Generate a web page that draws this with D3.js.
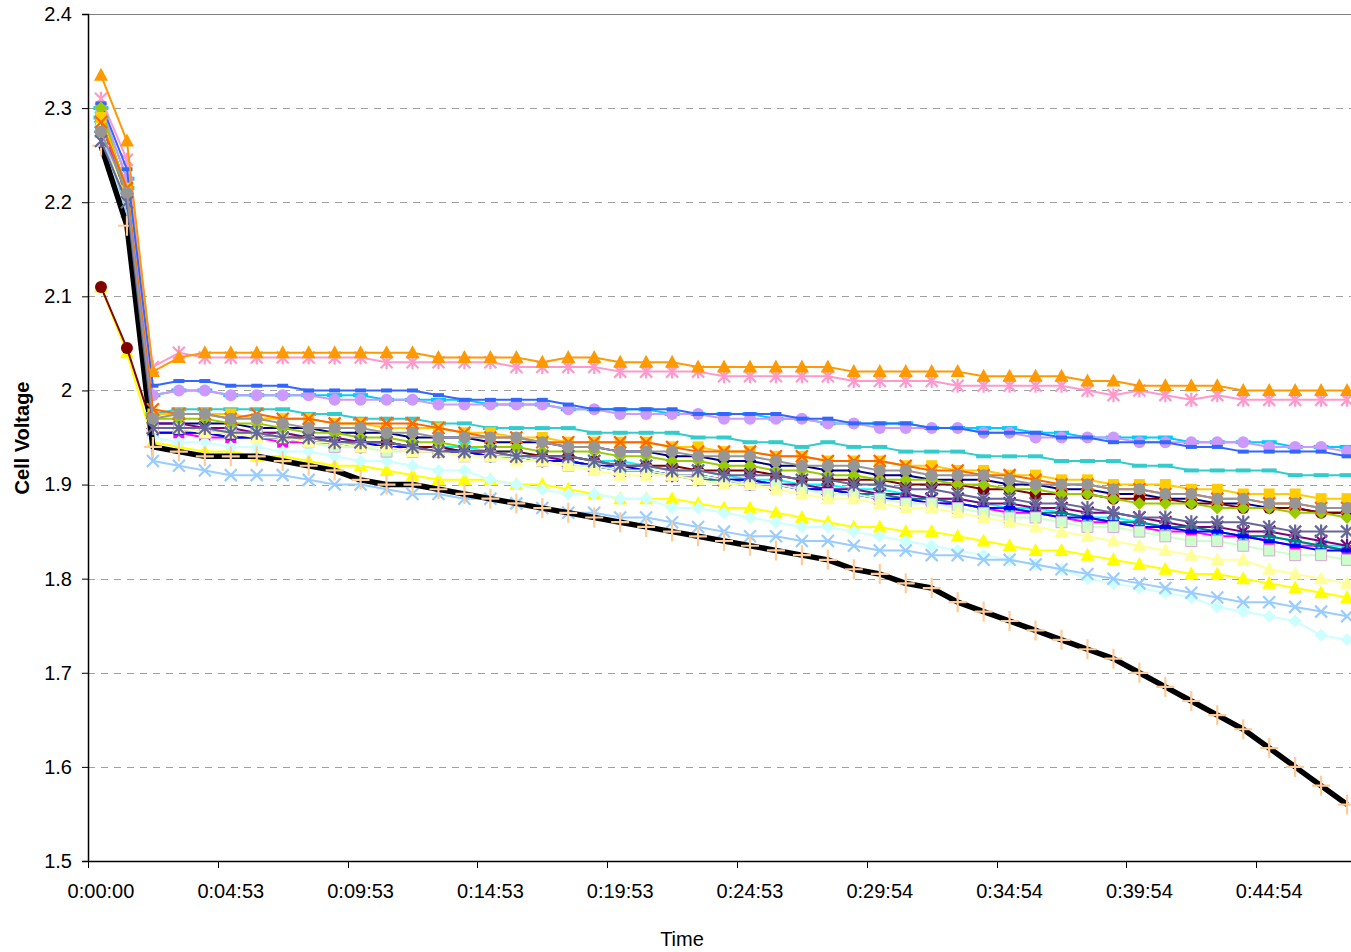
<!DOCTYPE html>
<html>
<head>
<meta charset="utf-8">
<script src="https://cdn.jsdelivr.net/npm/d3@7"></script>
<style>
  body { margin: 0; background: #fff; }
  svg { display: block; font-family: "Liberation Sans", Arial, sans-serif; }
</style>
</head>
<body>
<svg id="chart" width="1351" height="952"></svg>
<script>
// sample times (category axis)
const times = [
  "0:00:00", "0:00:53", "0:01:53", "0:02:53", "0:03:53", "0:04:53", "0:05:53", "0:06:53", "0:07:53", "0:08:53",
  "0:09:53", "0:10:53", "0:11:53", "0:12:53", "0:13:53", "0:14:53", "0:15:53", "0:16:53", "0:17:53", "0:18:53",
  "0:19:53", "0:20:53", "0:21:53", "0:22:53", "0:23:53", "0:24:53", "0:25:53", "0:26:53", "0:27:54", "0:28:54",
  "0:29:54", "0:30:54", "0:31:54", "0:32:54", "0:33:54", "0:34:54", "0:35:54", "0:36:54", "0:37:54", "0:38:54",
  "0:39:54", "0:40:54", "0:41:54", "0:42:54", "0:43:54", "0:44:54", "0:45:54", "0:46:54", "0:47:54"
];
const yTicks = [1.5, 1.6, 1.7, 1.8, 1.9, 2.0, 2.1, 2.2, 2.3, 2.4];

// cell voltages, one array per cell
const cell01 = [
  2.28, 2.2, 1.965, 1.965, 1.965, 1.965, 1.96, 1.96, 1.96, 1.955,
  1.955, 1.955, 1.95, 1.95, 1.95, 1.945, 1.945, 1.945, 1.94, 1.94,
  1.935, 1.935, 1.93, 1.93, 1.925, 1.925, 1.92, 1.92, 1.915, 1.915,
  1.91, 1.91, 1.905, 1.905, 1.905, 1.9, 1.9, 1.895, 1.895, 1.89,
  1.89, 1.885, 1.885, 1.88, 1.88, 1.875, 1.875, 1.87, 1.87];
const cell02 = [
  2.29, 2.2, 1.955, 1.955, 1.95, 1.95, 1.95, 1.945, 1.945, 1.945,
  1.94, 1.94, 1.935, 1.935, 1.935, 1.93, 1.93, 1.925, 1.925, 1.92,
  1.915, 1.915, 1.91, 1.91, 1.905, 1.9, 1.9, 1.895, 1.895, 1.89,
  1.885, 1.885, 1.88, 1.88, 1.875, 1.87, 1.87, 1.865, 1.86, 1.86,
  1.855, 1.85, 1.85, 1.845, 1.845, 1.84, 1.835, 1.835, 1.83];
const cell03 = [
  2.11, 2.04, 1.945, 1.94, 1.935, 1.935, 1.93, 1.93, 1.925, 1.92,
  1.92, 1.915, 1.91, 1.905, 1.905, 1.905, 1.9, 1.9, 1.895, 1.89,
  1.885, 1.885, 1.885, 1.88, 1.875, 1.875, 1.87, 1.865, 1.86, 1.855,
  1.855, 1.85, 1.85, 1.845, 1.84, 1.835, 1.83, 1.83, 1.825, 1.82,
  1.815, 1.81, 1.805, 1.805, 1.8, 1.795, 1.79, 1.785, 1.78];
const cell04 = [
  2.29, 2.21, 1.96, 1.96, 1.96, 1.955, 1.955, 1.955, 1.95, 1.95,
  1.945, 1.945, 1.94, 1.94, 1.94, 1.935, 1.935, 1.93, 1.93, 1.925,
  1.925, 1.92, 1.915, 1.915, 1.91, 1.905, 1.905, 1.9, 1.9, 1.895,
  1.895, 1.89, 1.885, 1.885, 1.88, 1.875, 1.875, 1.87, 1.865, 1.865,
  1.86, 1.855, 1.855, 1.85, 1.845, 1.845, 1.84, 1.835, 1.835];
const cell05 = [
  2.28, 2.2, 1.965, 1.965, 1.96, 1.96, 1.955, 1.955, 1.95, 1.95,
  1.945, 1.945, 1.94, 1.94, 1.935, 1.935, 1.93, 1.93, 1.925, 1.92,
  1.915, 1.915, 1.91, 1.91, 1.905, 1.905, 1.9, 1.9, 1.895, 1.895,
  1.89, 1.89, 1.885, 1.885, 1.88, 1.88, 1.875, 1.875, 1.87, 1.87,
  1.865, 1.86, 1.855, 1.855, 1.85, 1.85, 1.845, 1.84, 1.835];
const cell06 = [
  2.11, 2.045, 1.96, 1.96, 1.955, 1.955, 1.955, 1.95, 1.95, 1.945,
  1.945, 1.945, 1.94, 1.94, 1.935, 1.935, 1.935, 1.93, 1.93, 1.925,
  1.92, 1.92, 1.92, 1.915, 1.915, 1.915, 1.91, 1.905, 1.905, 1.905,
  1.905, 1.9, 1.9, 1.9, 1.895, 1.895, 1.89, 1.89, 1.89, 1.885,
  1.885, 1.885, 1.88, 1.88, 1.875, 1.875, 1.875, 1.87, 1.87];
const cell07 = [
  2.275, 2.2, 1.955, 1.955, 1.955, 1.95, 1.95, 1.95, 1.945, 1.945,
  1.94, 1.94, 1.94, 1.935, 1.935, 1.93, 1.93, 1.925, 1.925, 1.92,
  1.915, 1.915, 1.91, 1.905, 1.905, 1.9, 1.9, 1.895, 1.895, 1.89,
  1.89, 1.885, 1.885, 1.88, 1.875, 1.875, 1.87, 1.87, 1.865, 1.86,
  1.86, 1.855, 1.855, 1.85, 1.845, 1.845, 1.84, 1.835, 1.83];
const cell08 = [
  2.29, 2.215, 1.955, 1.955, 1.955, 1.95, 1.95, 1.95, 1.945, 1.945,
  1.945, 1.94, 1.94, 1.935, 1.935, 1.93, 1.93, 1.925, 1.925, 1.92,
  1.92, 1.915, 1.91, 1.91, 1.905, 1.905, 1.9, 1.895, 1.895, 1.89,
  1.885, 1.885, 1.88, 1.88, 1.875, 1.875, 1.87, 1.865, 1.865, 1.86,
  1.855, 1.855, 1.85, 1.85, 1.845, 1.84, 1.835, 1.83, 1.83];
const cell09 = [
  2.3, 2.225, 1.995, 2.0, 2.0, 1.995, 1.995, 1.995, 1.995, 1.995,
  1.995, 1.99, 1.99, 1.99, 1.99, 1.985, 1.985, 1.985, 1.98, 1.98,
  1.98, 1.98, 1.975, 1.975, 1.975, 1.975, 1.97, 1.97, 1.965, 1.965,
  1.965, 1.965, 1.96, 1.96, 1.96, 1.96, 1.955, 1.955, 1.95, 1.95,
  1.95, 1.95, 1.945, 1.945, 1.945, 1.945, 1.94, 1.94, 1.94];
const cell10 = [
  2.27, 2.19, 1.95, 1.945, 1.945, 1.94, 1.94, 1.935, 1.935, 1.93,
  1.925, 1.925, 1.92, 1.915, 1.915, 1.905, 1.9, 1.895, 1.89, 1.89,
  1.885, 1.885, 1.875, 1.875, 1.87, 1.865, 1.86, 1.855, 1.855, 1.85,
  1.845, 1.84, 1.835, 1.83, 1.825, 1.82, 1.815, 1.81, 1.8, 1.795,
  1.79, 1.785, 1.78, 1.77, 1.765, 1.76, 1.755, 1.74, 1.735];
const cell11 = [
  2.28, 2.195, 1.96, 1.96, 1.955, 1.955, 1.955, 1.95, 1.945, 1.94,
  1.94, 1.935, 1.935, 1.935, 1.93, 1.93, 1.93, 1.925, 1.92, 1.92,
  1.915, 1.915, 1.91, 1.91, 1.905, 1.9, 1.9, 1.895, 1.89, 1.89,
  1.885, 1.88, 1.88, 1.875, 1.87, 1.865, 1.865, 1.86, 1.855, 1.855,
  1.85, 1.845, 1.84, 1.84, 1.835, 1.83, 1.825, 1.825, 1.82];
const cell12 = [
  2.275, 2.2, 1.96, 1.96, 1.955, 1.955, 1.95, 1.95, 1.945, 1.945,
  1.94, 1.94, 1.935, 1.935, 1.93, 1.93, 1.925, 1.925, 1.92, 1.915,
  1.91, 1.91, 1.91, 1.905, 1.9, 1.9, 1.895, 1.89, 1.885, 1.885,
  1.88, 1.875, 1.875, 1.87, 1.865, 1.86, 1.855, 1.85, 1.845, 1.84,
  1.835, 1.83, 1.825, 1.82, 1.82, 1.81, 1.805, 1.8, 1.795];
const cell13 = [
  2.275, 2.19, 1.925, 1.92, 1.915, 1.91, 1.91, 1.91, 1.905, 1.9,
  1.9, 1.895, 1.89, 1.89, 1.885, 1.885, 1.88, 1.875, 1.87, 1.87,
  1.865, 1.865, 1.86, 1.855, 1.85, 1.845, 1.845, 1.84, 1.84, 1.835,
  1.83, 1.83, 1.825, 1.825, 1.82, 1.82, 1.815, 1.81, 1.805, 1.8,
  1.795, 1.79, 1.785, 1.78, 1.775, 1.775, 1.77, 1.765, 1.76];
const cell14 = [
  2.31, 2.245, 2.025, 2.04, 2.035, 2.035, 2.035, 2.035, 2.035, 2.035,
  2.035, 2.03, 2.03, 2.03, 2.03, 2.03, 2.025, 2.025, 2.025, 2.025,
  2.02, 2.02, 2.02, 2.02, 2.015, 2.015, 2.015, 2.015, 2.015, 2.01,
  2.01, 2.01, 2.01, 2.005, 2.005, 2.005, 2.005, 2.005, 2.0, 1.995,
  2.0, 1.995, 1.99, 1.995, 1.99, 1.99, 1.99, 1.99, 1.99];
const cell15 = [
  2.3, 2.225, 1.995, 2.0, 2.0, 1.995, 1.995, 1.995, 1.995, 1.99,
  1.99, 1.99, 1.99, 1.985, 1.985, 1.985, 1.985, 1.985, 1.98, 1.98,
  1.975, 1.975, 1.975, 1.975, 1.97, 1.97, 1.97, 1.97, 1.965, 1.965,
  1.96, 1.96, 1.96, 1.96, 1.955, 1.955, 1.95, 1.95, 1.95, 1.95,
  1.945, 1.945, 1.945, 1.945, 1.945, 1.94, 1.94, 1.94, 1.935];
const cell16 = [
  2.26, 2.175, 1.94, 1.935, 1.93, 1.93, 1.93, 1.925, 1.92, 1.915,
  1.905, 1.9, 1.9, 1.895, 1.89, 1.885, 1.88, 1.875, 1.87, 1.865,
  1.86, 1.855, 1.85, 1.845, 1.84, 1.835, 1.83, 1.825, 1.82, 1.81,
  1.805, 1.795, 1.79, 1.775, 1.765, 1.755, 1.745, 1.735, 1.725, 1.715,
  1.7, 1.685, 1.67, 1.655, 1.64, 1.62, 1.6, 1.58, 1.56];
const cell17 = [
  2.305, 2.235, 2.005, 2.01, 2.01, 2.005, 2.005, 2.005, 2.0, 2.0,
  2.0, 2.0, 2.0, 1.995, 1.99, 1.99, 1.99, 1.99, 1.985, 1.98,
  1.98, 1.98, 1.98, 1.975, 1.975, 1.975, 1.975, 1.97, 1.97, 1.965,
  1.965, 1.965, 1.96, 1.96, 1.955, 1.955, 1.955, 1.95, 1.95, 1.945,
  1.945, 1.945, 1.94, 1.94, 1.935, 1.935, 1.935, 1.935, 1.93];
const cell18 = [
  2.29, 2.215, 1.975, 1.98, 1.98, 1.98, 1.98, 1.98, 1.975, 1.975,
  1.97, 1.97, 1.97, 1.965, 1.965, 1.96, 1.96, 1.96, 1.96, 1.955,
  1.955, 1.955, 1.955, 1.95, 1.95, 1.945, 1.945, 1.94, 1.945, 1.94,
  1.94, 1.935, 1.935, 1.935, 1.93, 1.93, 1.93, 1.925, 1.925, 1.925,
  1.92, 1.92, 1.915, 1.915, 1.915, 1.915, 1.91, 1.91, 1.91];
const cell19 = [
  2.3, 2.21, 1.97, 1.97, 1.97, 1.965, 1.965, 1.96, 1.955, 1.955,
  1.95, 1.95, 1.945, 1.945, 1.94, 1.94, 1.94, 1.935, 1.935, 1.935,
  1.93, 1.93, 1.925, 1.925, 1.92, 1.92, 1.915, 1.915, 1.91, 1.91,
  1.905, 1.905, 1.905, 1.9, 1.9, 1.895, 1.895, 1.89, 1.89, 1.885,
  1.88, 1.88, 1.88, 1.875, 1.875, 1.875, 1.87, 1.87, 1.865];
const cell20 = [
  2.29, 2.215, 1.975, 1.975, 1.975, 1.975, 1.97, 1.97, 1.97, 1.965,
  1.965, 1.96, 1.96, 1.96, 1.955, 1.955, 1.95, 1.95, 1.945, 1.945,
  1.945, 1.945, 1.94, 1.94, 1.935, 1.935, 1.93, 1.93, 1.925, 1.925,
  1.925, 1.92, 1.92, 1.915, 1.915, 1.91, 1.91, 1.905, 1.905, 1.9,
  1.9, 1.9, 1.895, 1.895, 1.89, 1.89, 1.89, 1.885, 1.885];
const cell21 = [
  2.335, 2.265, 2.02, 2.035, 2.04, 2.04, 2.04, 2.04, 2.04, 2.04,
  2.04, 2.04, 2.04, 2.035, 2.035, 2.035, 2.035, 2.03, 2.035, 2.035,
  2.03, 2.03, 2.03, 2.025, 2.025, 2.025, 2.025, 2.025, 2.025, 2.02,
  2.02, 2.02, 2.02, 2.02, 2.015, 2.015, 2.015, 2.015, 2.01, 2.01,
  2.005, 2.005, 2.005, 2.005, 2.0, 2.0, 2.0, 2.0, 2.0];
const cell22 = [
  2.285, 2.215, 1.98, 1.975, 1.975, 1.97, 1.975, 1.97, 1.97, 1.965,
  1.965, 1.965, 1.965, 1.96, 1.955, 1.95, 1.95, 1.945, 1.945, 1.945,
  1.945, 1.945, 1.94, 1.935, 1.935, 1.935, 1.93, 1.93, 1.925, 1.925,
  1.925, 1.92, 1.915, 1.915, 1.91, 1.91, 1.905, 1.9, 1.9, 1.895,
  1.895, 1.89, 1.89, 1.885, 1.885, 1.88, 1.88, 1.875, 1.875];
const cell23 = [
  2.265, 2.2, 1.96, 1.96, 1.96, 1.955, 1.955, 1.95, 1.95, 1.945,
  1.945, 1.945, 1.94, 1.935, 1.935, 1.935, 1.93, 1.93, 1.93, 1.925,
  1.92, 1.92, 1.915, 1.915, 1.91, 1.91, 1.91, 1.905, 1.905, 1.9,
  1.9, 1.895, 1.895, 1.89, 1.885, 1.885, 1.88, 1.88, 1.875, 1.87,
  1.865, 1.865, 1.86, 1.86, 1.86, 1.855, 1.85, 1.85, 1.85];
const cell24 = [
  2.275, 2.21, 1.97, 1.975, 1.975, 1.97, 1.97, 1.965, 1.96, 1.96,
  1.96, 1.955, 1.955, 1.95, 1.95, 1.95, 1.95, 1.945, 1.94, 1.94,
  1.935, 1.935, 1.935, 1.93, 1.93, 1.93, 1.925, 1.92, 1.92, 1.92,
  1.915, 1.915, 1.91, 1.91, 1.91, 1.905, 1.9, 1.9, 1.9, 1.895,
  1.895, 1.89, 1.89, 1.885, 1.885, 1.88, 1.88, 1.875, 1.875];

// drawing order = series order
const series = [
  { values: cell01, color: "#000080", marker: "diamond" },
  { values: cell02, color: "#ff00ff", marker: "square" },
  { values: cell03, color: "#ffff00", marker: "triangle" },
  { values: cell04, color: "#00ffff", marker: "x" },
  { values: cell05, color: "#800080", marker: "star" },
  { values: cell06, color: "#800000", marker: "circle" },
  { values: cell07, color: "#008080", marker: "plus" },
  { values: cell08, color: "#0000ff", marker: "dash" },
  { values: cell09, color: "#00ccff", marker: "longdash" },
  { values: cell10, color: "#ccffff", marker: "diamond" },
  { values: cell11, color: "#ccffcc", marker: "square", markerStroke: "#d9a6d9" },
  { values: cell12, color: "#ffff99", marker: "triangle" },
  { values: cell13, color: "#99ccff", marker: "x" },
  { values: cell14, color: "#ff99cc", marker: "star" },
  { values: cell15, color: "#cc99ff", marker: "circle" },
  { values: cell16, color: "#ffcc99", marker: "bigplus", lineColor: "#000000", lineWidth: 5.5 },
  { values: cell17, color: "#3366ff", marker: "dash" },
  { values: cell18, color: "#33cccc", marker: "longdash" },
  { values: cell19, color: "#99cc00", marker: "diamond" },
  { values: cell20, color: "#ffcc00", marker: "square" },
  { values: cell21, color: "#ff9900", marker: "triangle" },
  { values: cell22, color: "#ff6600", marker: "x" },
  { values: cell23, color: "#666699", marker: "star" },
  { values: cell24, color: "#969696", marker: "circle" }
];

const markerPaths = {
  diamond: "M0,-6.5L6.5,0L0,6.5L-6.5,0Z",
  square: "M-5.5,-5.5H5.5V5.5H-5.5Z",
  triangle: "M0,-7.5L7,5.5L-7,5.5Z",
  circle: "M-6,0A6,6 0 1,0 6,0A6,6 0 1,0 -6,0Z",
  dash: "M-5.5,-2H5.5V2H-5.5Z",
  longdash: "M-7.5,-2H7.5V2H-7.5Z",
  x: "M-6,-6L6,6M-6,6L6,-6",
  star: "M-6,-6L6,6M-6,6L6,-6M0,-7V7",
  plus: "M-6.5,0H6.5M0,-6.5V6.5",
  bigplus: "M-9,0H9M0,-10V10"
};
const strokeOnly = new Set(["x", "star", "plus", "bigplus"]);

const svgEl = document.getElementById("chart");
const width = 1351, height = 952;
const plotLeft = 88, plotTop = 14, plotBottom = 861;
const band = 25.96;

const svg = d3.select(svgEl).attr("viewBox", `0 0 ${width} ${height}`);

const x = d3.scaleBand().domain(times).range([plotLeft, plotLeft + band * times.length]).padding(0);
const xc = (i) => x(times[i]) + x.bandwidth() / 2;
const y = d3.scaleLinear().domain([1.5, 2.4]).range([plotBottom, plotTop]);

// gridlines
svg.append("g")
  .selectAll("line")
  .data(yTicks.filter((d) => d > 1.5 && d < 2.4))
  .join("line")
  .attr("x1", plotLeft).attr("x2", width)
  .attr("y1", (d) => Math.round(y(d)) + 0.5).attr("y2", (d) => Math.round(y(d)) + 0.5)
  .attr("stroke", "#a0a0a0")
  .attr("stroke-dasharray", "7,6");

svg.append("line")
  .attr("x1", plotLeft).attr("x2", width)
  .attr("y1", plotTop + 0.5).attr("y2", plotTop + 0.5)
  .attr("stroke", "#808080");

// series
const plot = svg.append("g");
const line = d3.line().x((d, i) => xc(i)).y((d) => y(d));

series.forEach((s) => {
  const g = plot.append("g");
  g.append("path")
    .datum(s.values)
    .attr("fill", "none")
    .attr("stroke", s.lineColor || s.color)
    .attr("stroke-width", s.lineWidth || 2)
    .attr("stroke-linejoin", "round")
    .attr("d", line);

  const so = strokeOnly.has(s.marker);
  g.selectAll("path.m")
    .data(s.values)
    .join("path")
    .attr("class", "m")
    .attr("transform", (d, i) => `translate(${xc(i)},${y(d)})`)
    .attr("d", markerPaths[s.marker])
    .attr("fill", so ? "none" : s.color)
    .attr("stroke", so ? s.color : (s.markerStroke || "none"))
    .attr("stroke-width", so ? 2.2 : 1);
});

// y axis
const yAxis = svg.append("g")
  .attr("transform", `translate(${plotLeft},0)`)
  .call(d3.axisLeft(y).tickValues(yTicks).tickSize(6).tickPadding(10).tickFormat(d3.format("~g")));
yAxis.select(".domain").attr("stroke", "#000").attr("stroke-width", 1.5);
yAxis.selectAll(".tick line").attr("stroke", "#000");
yAxis.selectAll("text").attr("fill", "#000").attr("font-size", 20)
  .attr("font-family", "Liberation Sans, Arial, sans-serif");

// x axis
const xAxis = svg.append("g")
  .attr("transform", `translate(0,${plotBottom})`)
  .call(d3.axisBottom(x).tickValues(times.filter((d, i) => i % 5 === 0)).tickSize(0).tickSizeOuter(0).tickPadding(23));
xAxis.select(".domain").attr("stroke", "#000").attr("stroke-width", 1.5)
  .attr("d", `M${plotLeft},0.5H${width}`);
xAxis.selectAll("text").attr("fill", "#000").attr("font-size", 20)
  .attr("font-family", "Liberation Sans, Arial, sans-serif");
xAxis.append("g")
  .selectAll("line")
  .data(times.filter((d, i) => i % 5 === 0))
  .join("line")
  .attr("x1", (d) => Math.round(x(d)) + 0.5).attr("x2", (d) => Math.round(x(d)) + 0.5)
  .attr("y1", 0).attr("y2", 7)
  .attr("stroke", "#000");

// titles
svg.append("text")
  .attr("transform", "translate(29,438) rotate(-90)")
  .attr("text-anchor", "middle")
  .attr("font-size", 20)
  .attr("font-weight", "bold")
  .text("Cell Voltage");

svg.append("text")
  .attr("x", 682).attr("y", 946)
  .attr("text-anchor", "middle")
  .attr("font-size", 20)
  .text("Time");
</script>
</body>
</html>
